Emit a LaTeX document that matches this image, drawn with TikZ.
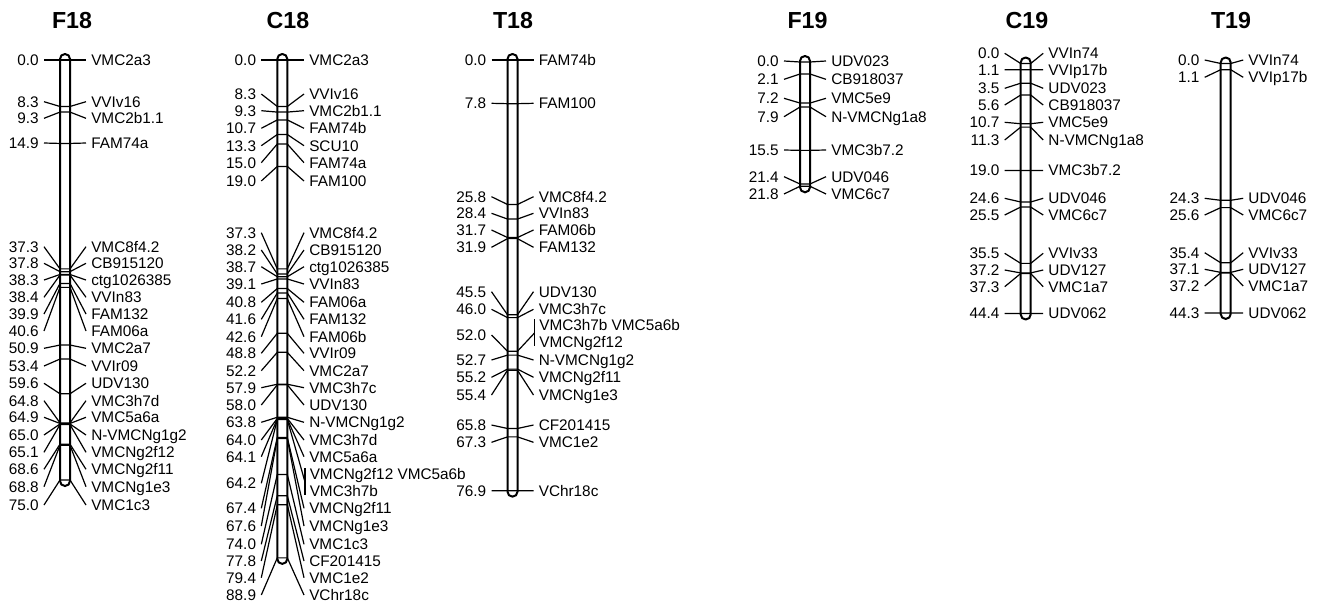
\documentclass[tikz,border=0pt]{standalone}
\usepackage{fontspec}
\setmainfont{Liberation Sans}
\tikzset{
  lab/.style={inner xsep=3.75pt, inner ysep=0pt, font=\fontsize{11.5}{13}\selectfont, text height=8.2pt, text depth=0pt},
  numlab/.style={lab, anchor=east},
  mklab/.style={lab, anchor=west},
  conn/.style={line width=0.9pt},
  chromo/.style={line width=1.5pt, rounded corners=3.7pt},
  ttl/.style={font=\fontsize{17.4}{20}\selectfont\bfseries, inner sep=0pt}
}
% #1 name, #2 left x, #3 y of 0 cM, #4 px per cM, #5 length cM, #6 right connector length, #7 entries cM/labely/marker
\newcommand\drawchrom[7]{%
  \foreach \cmv/\lyv/\mkv [count=\i] in {#7} {
    \pgfmathsetmacro\ymv{#3+#4*\cmv}
    \coordinate (#1l\i) at (#2,\ymv);
    \coordinate (#1r\i) at (#2+10,\ymv);
    \node[numlab] (#1n\i) at (#2-16,\lyv) {\cmv};
    \node[mklab] (#1m\i) at (#2+10+#6,\lyv) {\mkv};
    \draw[conn] (#1n\i.east) -- (#1l\i) -- (#1r\i) -- (#1m\i.west);
  }
  \draw[chromo] (#2,#3-6) rectangle (#2+10,{#3+#4*#5+6});
}
\begin{document}
\begin{tikzpicture}[x=0.75pt,y=-0.75pt]
\useasboundingbox (0,0) rectangle (1320,604);
% titles
\node[ttl] (tF18) at (72,20.7) {F18};
\node[ttl] (tC18) at (288,20.7) {C18};
\node[ttl] (tT18) at (513,20.7) {T18};
\node[ttl] (tF19) at (807.5,20.7) {F19};
\node[ttl] (tC19) at (1027,20.7) {C19};
\node[ttl] (tT19) at (1231,20.7) {T19};

% F18
\drawchrom{F}{60}{60}{5.6}{75.0}{16}{0.0/60/VMC2a3, 8.3/101.7/VVIv16, 9.3/118.3/VMC2b1.1, 14.9/143/FAM74a,
 37.3/246.7/VMC8f4.2, 37.8/263.3/CB915120, 38.3/280/ctg1026385, 38.4/297.3/VVIn83, 39.9/314/FAM132,
 40.6/331/FAM06a, 50.9/348.3/VMC2a7, 53.4/366/VVIr09, 59.6/383.3/UDV130, 64.8/400.7/VMC3h7d,
 64.9/417.3/VMC5a6a, 65.0/435/N-VMCNg1g2, 65.1/452.3/VMCNg2f12, 68.6/469.3/VMCNg2f11,
 68.8/486.7/VMCNg1e3, 75.0/505/VMC1c3}

% C18
\drawchrom{C}{277.3}{60}{5.6}{88.9}{16.7}{0.0/60/VMC2a3, 8.3/94/VVIv16, 9.3/110.7/VMC2b1.1, 10.7/128.3/FAM74b,
 13.3/145.7/SCU10, 15.0/162.7/FAM74a, 19.0/181/FAM100, 37.3/232.7/VMC8f4.2, 38.2/250/CB915120,
 38.7/266.7/ctg1026385, 39.1/284/VVIn83, 40.8/302.3/FAM06a, 41.6/319.3/FAM132, 42.6/336.7/FAM06b,
 48.8/353.3/VVIr09, 52.2/370.7/VMC2a7, 57.9/387.7/VMC3h7c, 58.0/405/UDV130, 63.8/422.3/N-VMCNg1g2,
 64.0/440/VMC3h7d, 64.1/456.7/VMC5a6a, 67.4/508.3/VMCNg2f11, 67.6/526/VMCNg1e3, 74.0/544.3/VMC1c3,
 77.8/561/CF201415, 79.4/577.7/VMC1e2, 88.9/595/VChr18c}
% C18 grouped marker 64.2
\coordinate (Cgl) at (277.3,419.5);
\coordinate (Cgr) at (287.3,419.5);
\coordinate (Cgt) at (305,468);
\coordinate (Cgb) at (305,495);
\coordinate (Cgm) at (305,482);
\node[numlab] (Cgn) at (261.3,483.3) {64.2};
\node[mklab] (Cga) at (304.5,474) {VMCNg2f12 VMC5a6b};
\node[mklab] (Cgc) at (304.5,490.7) {VMC3h7b};
\draw[conn] (Cgn.east) -- (Cgl) -- (Cgr) -- (Cgm);
\draw[conn] (Cgt) -- (Cgb);

% T18
\drawchrom{T}{507.5}{60}{5.6}{76.9}{16}{0.0/60/FAM74b, 7.8/103.3/FAM100, 25.8/196.7/VMC8f4.2, 28.4/213.3/VVIn83,
 31.7/230/FAM06b, 31.9/247.3/FAM132, 45.5/291.7/UDV130, 46.0/309.3/VMC3h7c, 52.7/360/N-VMCNg1g2,
 55.2/377.3/VMCNg2f11, 55.4/395/VMCNg1e3, 65.8/425/CF201415, 67.3/442.3/VMC1e2, 76.9/490.7/VChr18c}
% T18 grouped marker 52.0
\coordinate (Tgl) at (507.5,351.2);
\coordinate (Tgr) at (517.5,351.2);
\coordinate (Tgt) at (534.5,319);
\coordinate (Tgb) at (534.5,346);
\coordinate (Tgm) at (534.5,333);
\node[numlab] (Tgn) at (491.5,335) {52.0};
\node[mklab] (Tga) at (534,325) {VMC3h7b VMC5a6b};
\node[mklab] (Tgc) at (534,342.3) {VMCNg2f12};
\draw[conn] (Tgn.east) -- (Tgl) -- (Tgr) -- (Tgm);
\draw[conn] (Tgt) -- (Tgb);

% F19
\drawchrom{G}{800}{62}{5.7}{21.8}{16}{0.0/61/UDV023, 2.1/79.3/CB918037, 7.2/98.3/VMC5e9, 7.9/116.7/N-VMCNg1a8,
 15.5/150/VMC3b7.2, 21.4/176.7/UDV046, 21.8/194/VMC6c7}

% C19
\drawchrom{D}{1020.7}{63.5}{5.63}{44.4}{12.5}{0.0/53.3/VVIn74, 1.1/69.7/VVIp17b, 3.5/88.3/UDV023, 5.6/105/CB918037,
 10.7/122.3/VMC5e9, 11.3/140/N-VMCNg1a8, 19.0/170.5/VMC3b7.2, 24.6/198.3/UDV046, 25.5/215/VMC6c7,
 35.5/253.3/VVIv33, 37.2/270/UDV127, 37.3/286.7/VMC1a7, 44.4/313.5/UDV062}

% T19
\drawchrom{U}{1220.7}{63.5}{5.63}{44.3}{12.5}{0.0/60/VVIn74, 1.1/77.3/VVIp17b, 24.3/198.3/UDV046, 25.6/215/VMC6c7,
 35.4/252.7/VVIv33, 37.1/269.3/UDV127, 37.2/286/VMC1a7, 44.3/312.9/UDV062}
\end{tikzpicture}
\end{document}
